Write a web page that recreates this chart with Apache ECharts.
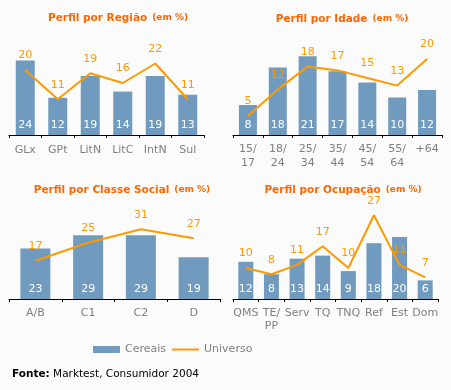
<!DOCTYPE html>
<html>
<head>
<meta charset="utf-8">
<script src="https://cdn.jsdelivr.net/npm/echarts@6/dist/echarts.min.js"></script>
<style>
html,body{margin:0;padding:0;background:#fbfbfb;}
#c{width:451px;height:390px;}
</style>
</head>
<body>
<div id="c"></div>
<script>
// ---- data ----
const catRegiao = ['GLx','GPt','LitN','LitC','IntN','Sul'];
const cerRegiao = [24,12,19,14,19,13];
const uniRegiao = [20,11,19,16,22,11];

const catIdade = ['15/\n17','18/\n24','25/\n34','35/\n44','45/\n54','55/\n64','+64'];
const cerIdade = [8,18,21,17,14,10,12];
const uniIdade = [5,12,18,17,15,13,20];

const catClasse = ['A/B','C1','C2','D'];
const cerClasse = [23,29,29,19];
const uniClasse = [17,25,31,27];

const catOcup = ['QMS','TE/\nPP','Serv','TQ','TNQ','Ref','Est','Dom'];
const cerOcup = [12,8,13,14,9,18,20,6];
const uniOcup = [10,8,11,17,10,27,11,7];

const titles = ['Perfil por Região','Perfil por Idade','Perfil por Classe Social','Perfil por Ocupação'];
const legendNames = ['Cereais','Universo'];
const sourceLabel = 'Fonte:';
const sourceText = 'Marktest, Consumidor 2004';

// ---- layout/styling ----
const FONT = 'DejaVu Sans';
const BAR = '#709bbf';
const LINE = '#ff9900';
const TITLE = '#ff6600';
const H = 110;
const panels = [
  {cats:catRegiao, cer:cerRegiao, uni:uniRegiao, left:9, width:195, axisY:135, barScale:3.1, lineScale:3.25, barW:19, tx:118, ty:16, margin:8, lh:14},
  {cats:catIdade, cer:cerIdade, uni:uniIdade, left:233, width:209, axisY:135, barScale:3.75, lineScale:3.8, barW:18, tx:342, ty:17, margin:7, lh:14},
  {cats:catClasse, cer:cerClasse, uni:uniClasse, left:9, width:211, axisY:299, barScale:2.2, lineScale:2.25, barW:30, tx:122, ty:188, margin:8, lh:13},
  {cats:catOcup, cer:cerOcup, uni:uniOcup, left:233, width:205, axisY:299, barScale:3.1, lineScale:3.1, barW:15, tx:343, ty:188, margin:8, lh:13}
];

const grid=[], xAxis=[], yAxis=[], series=[], title=[];
panels.forEach((p,i)=>{
  grid.push({left:p.left, width:p.width, top:p.axisY-H, height:H});
  xAxis.push({type:'category', gridIndex:i, data:p.cats, boundaryGap:true,
    axisLine:{lineStyle:{color:'#000',width:1}},
    axisTick:{show:true,length:3,lineStyle:{color:'#000'}},
    axisLabel:{color:'#808080',fontFamily:FONT,fontSize:11,margin:p.margin,lineHeight:p.lh,interval:0}});
  yAxis.push({type:'value', gridIndex:i, min:0, max:H/p.barScale, show:false});
  yAxis.push({type:'value', gridIndex:i, min:0, max:H/p.lineScale, show:false});
  series.push({name:legendNames[0], type:'bar', xAxisIndex:i, yAxisIndex:2*i, data:p.cer,
    barWidth:p.barW, itemStyle:{color:BAR},
    label:{show:true, position:'insideBottom', distance:4, color:'#fff', fontFamily:FONT, fontSize:11}});
  series.push({name:legendNames[1], type:'line', xAxisIndex:i, yAxisIndex:2*i+1, data:p.uni,
    symbol:'circle', symbolSize:0.1, showSymbol:true, clip:false,
    lineStyle:{color:LINE,width:2}, itemStyle:{color:LINE},
    label:{show:true, position:'top', distance:9, color:LINE, fontFamily:FONT, fontSize:11}});
  title.push({text:'{a|'+titles[i]+'} {b|(em %)}', left:p.tx, top:p.ty-7, textAlign:'center', padding:0,
    textStyle:{rich:{a:{fontFamily:FONT,fontWeight:'bold',fontSize:10.5,color:TITLE},
                     b:{fontFamily:FONT,fontWeight:'bold',fontSize:9,color:TITLE}}}});
});

const chart = echarts.init(document.getElementById('c'), null, {renderer:'canvas'});
chart.setOption({
  backgroundColor:'#fbfbfb',
  animation:false,
  title:title,
  grid:grid, xAxis:xAxis, yAxis:yAxis, series:series,
  legend:{left:93, top:344, itemWidth:27, itemHeight:7, itemGap:6, padding:0,
    textStyle:{color:'#808080',fontFamily:FONT,fontSize:11},
    data:[{name:legendNames[0],icon:'rect'},{name:legendNames[1],icon:'path://M0 0H27V2H0Z'}]},
  graphic:[{type:'text', left:12, top:368,
    style:{text:'{b|'+sourceLabel+'} {n|'+sourceText+'}',
      rich:{b:{fontFamily:FONT,fontWeight:'bold',fontSize:10.5,fill:'#000'},
            n:{fontFamily:FONT,fontSize:10.5,fill:'#000'}}}}]
});
</script>
</body>
</html>
